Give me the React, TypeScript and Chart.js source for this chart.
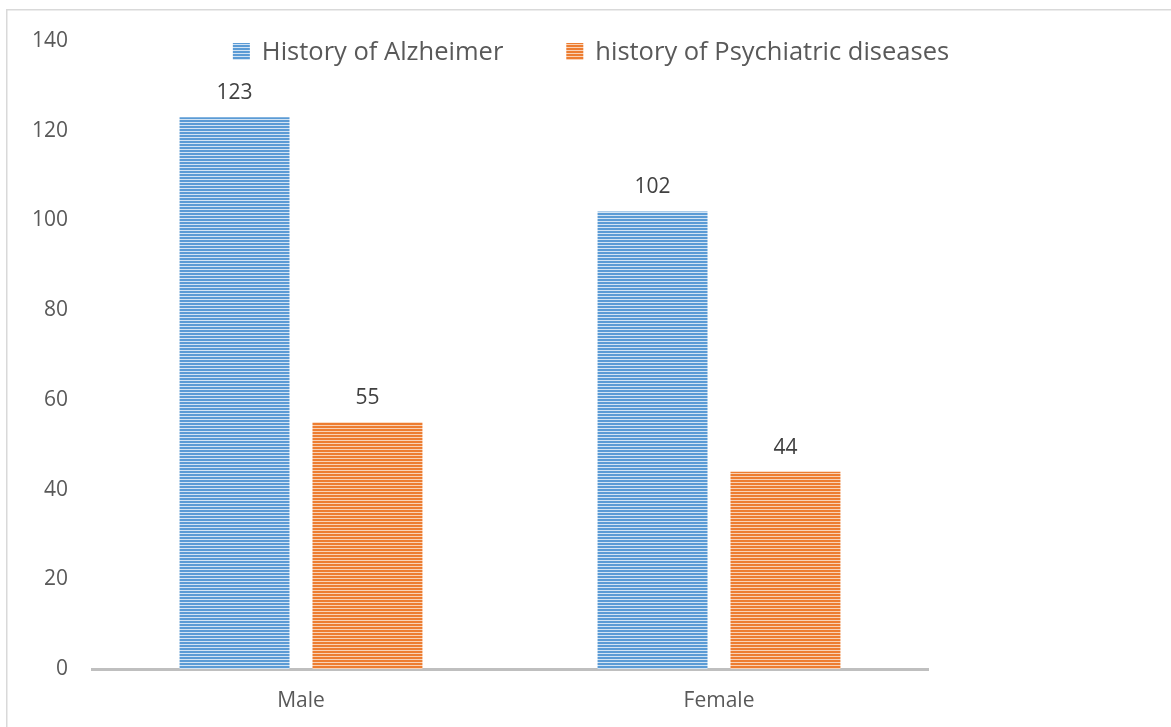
import { useEffect, useRef } from 'react';
import { Chart, registerables } from 'chart.js';

Chart.register(...registerables);

const categories = ['Male', 'Female'];
const seriesLabels = ['History of Alzheimer', 'history of Psychiatric diseases'];
const alzheimerValues = [123, 102];
const psychiatricValues = [55, 44];
const yMin = 0;
const yMax = 140;
const yStep = 20;

const FONT = '"Open Sans", "Liberation Sans", sans-serif';
const TEXT = '#595959';

function makePattern(dark: string, light: string) {
  const c = document.createElement('canvas');
  c.width = 4;
  c.height = 3;
  const g = c.getContext('2d')!;
  g.fillStyle = light;
  g.fillRect(0, 0, 4, 3);
  g.fillStyle = dark;
  g.fillRect(0, 0, 4, 2);
  return g.createPattern(c, 'repeat')!;
}

export default function App() {
  const ref = useRef<HTMLCanvasElement>(null);

  useEffect(() => {
    const canvas = ref.current!;
    const bluePat = makePattern('#5B9BD5', '#D3E4F4');
    const orangePat = makePattern('#ED7D31', '#F9D2B6');

    const framePlugin = {
      id: 'frame',
      beforeDraw(chart: any) {
        const ctx = chart.ctx;
        ctx.save();
        ctx.fillStyle = '#ffffff';
        ctx.fillRect(0, 0, chart.width, chart.height);
        ctx.strokeStyle = '#D9D9D9';
        ctx.lineWidth = 1.5;
        ctx.beginPath();
        ctx.moveTo(6.75, chart.height);
        ctx.lineTo(6.75, 9.75);
        ctx.lineTo(chart.width, 9.75);
        ctx.stroke();
        ctx.restore();
      },
    };

    const labelsPlugin = {
      id: 'valueLabels',
      afterDatasetsDraw(chart: any) {
        const ctx = chart.ctx;
        ctx.save();
        ctx.font = `21px ${FONT}`;
        ctx.fillStyle = '#404040';
        ctx.textAlign = 'center';
        ctx.textBaseline = 'alphabetic';
        chart.data.datasets.forEach((ds: any, di: number) => {
          const meta = chart.getDatasetMeta(di);
          meta.data.forEach((el: any, i: number) => {
            ctx.fillText(String(ds.data[i]), el.x, el.y - 18);
          });
        });
        ctx.restore();
      },
    };

    const legendPlugin = {
      id: 'customLegend',
      afterDraw(chart: any) {
        const ctx = chart.ctx;
        ctx.save();
        ctx.font = `25.5px ${FONT}`;
        const box = 17;
        const gap = 12;
        const itemGap = 63;
        const ds = chart.data.datasets;
        const widths = ds.map((d: any) => ctx.measureText(d.label).width);
        const total = widths.reduce((a: number, w: number) => a + box + gap + w, 0) + itemGap * (ds.length - 1);
        let x = 591 - total / 2;
        const baseY = 60;
        ds.forEach((d: any, i: number) => {
          ctx.fillStyle = d.backgroundColor;
          ctx.fillRect(x, 43, box, box);
          x += box + gap;
          ctx.fillStyle = TEXT;
          ctx.textAlign = 'left';
          ctx.textBaseline = 'alphabetic';
          ctx.fillText(d.label, x, baseY);
          x += widths[i] + itemGap;
        });
        ctx.restore();
      },
    };

    const chart = new Chart(canvas, {
      type: 'bar',
      data: {
        labels: categories,
        datasets: [
          {
            label: seriesLabels[0],
            data: alzheimerValues,
            backgroundColor: bluePat as any,
            categoryPercentage: 0.636,
            barPercentage: 0.827,
          },
          {
            label: seriesLabels[1],
            data: psychiatricValues,
            backgroundColor: orangePat as any,
            categoryPercentage: 0.636,
            barPercentage: 0.827,
          },
        ],
      },
      options: {
        responsive: false,
        animation: false,
        devicePixelRatio: 1,
        layout: { padding: { top: 41, right: 243, bottom: 0, left: 0 } },
        plugins: {
          legend: { display: false },
          tooltip: { enabled: false },
        },
        scales: {
          x: {
            grid: { display: false, drawTicks: false },
            border: { display: true, color: '#BFBFBF', width: 3 },
            ticks: {
              color: TEXT,
              font: { family: FONT, size: 21 },
              padding: 19,
            },
            afterFit(scale: any) {
              scale.height = 58;
            },
          },
          y: {
            min: yMin,
            max: yMax,
            grid: { display: false, drawTicks: false },
            border: { display: false },
            ticks: {
              stepSize: yStep,
              color: TEXT,
              font: { family: FONT, size: 21 },
              padding: 24,
            },
            afterFit(scale: any) {
              scale.width = 92;
            },
          },
        },
      },
      plugins: [framePlugin, labelsPlugin, legendPlugin],
    });

    return () => chart.destroy();
  }, []);

  return (
    <div style={{ position: 'absolute', left: 0, top: 0, width: 1171, height: 727 }}>
      <canvas ref={ref} width={1171} height={727} style={{ display: 'block', width: 1171, height: 727 }} />
    </div>
  );
}
